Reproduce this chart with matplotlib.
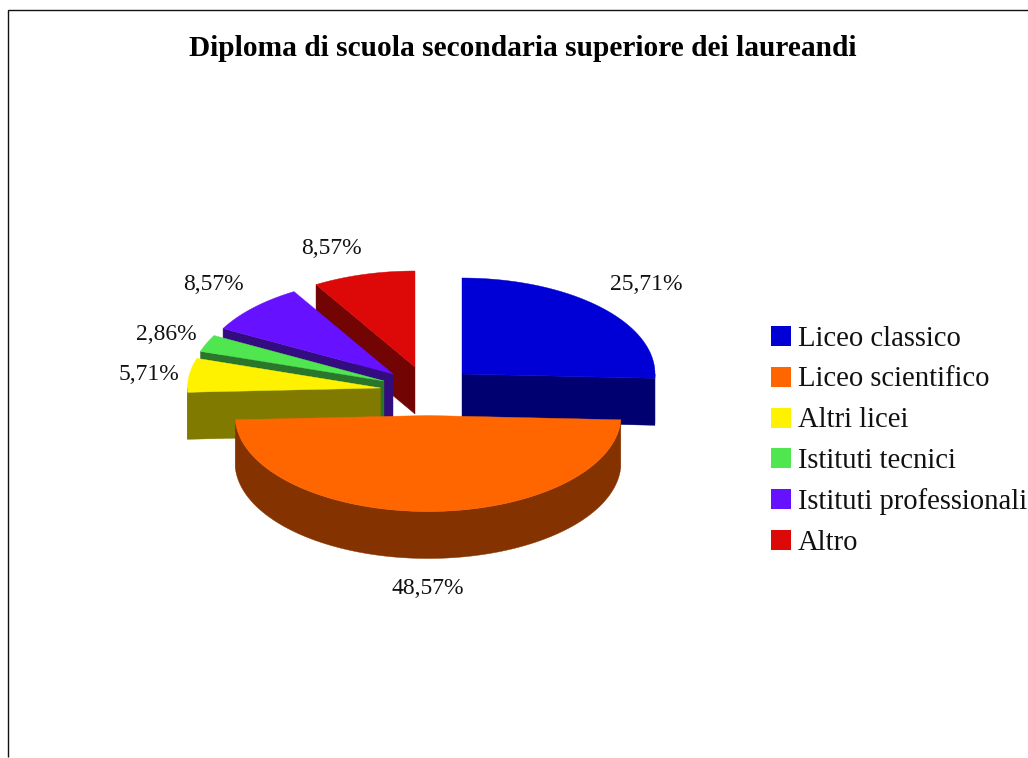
import numpy as np
import matplotlib
matplotlib.use("Agg")
import matplotlib.pyplot as plt
from matplotlib.patches import Rectangle

title = "Diploma di scuola secondaria superiore dei laureandi"
categories = ["Liceo classico", "Liceo scientifico", "Altri licei",
              "Istituti tecnici", "Istituti professionali", "Altro"]
values = [25.71, 48.57, 5.71, 2.86, 8.57, 8.57]
value_labels = ["25,71%", "48,57%", "5,71%", "2,86%", "8,57%", "8,57%"]

# styles and layout (pixel space)
top_colors = ["#0000D6", "#FF6600", "#FFF200", "#50E650", "#6611FF", "#DD0808"]
side_colors = ["#000070", "#843300", "#807A00", "#2A762A", "#330D80", "#720404"]
centers = [(462, 374), (428, 415.5), (380.5, 388), (384, 381), (393, 374), (415, 367)]
label_pos = [(646, 284), (428, 589), (148.5, 374), (166, 334), (213, 285), (331, 249)]
draw_order = [5, 4, 3, 2, 0, 1]
RX, RY, DEPTH = 193, 96, 47
W, H = 1028, 758
SERIF = "Liberation Serif"

fig = plt.figure(figsize=(W / 100, H / 100), dpi=100, facecolor="white")
ax = fig.add_axes([0, 0, 1, 1])
ax.set_xlim(0, W)
ax.set_ylim(H, 0)
ax.axis("off")

ax.plot([8, 8, W], [757, 10, 10], color="#111111", lw=1.0,
        solid_joinstyle="miter", solid_capstyle="butt")

ax.text(522.5, 48, title, ha="center", va="center", family=SERIF,
        fontweight="bold", fontsize=21.15, color="black")

cum = np.concatenate([[0], np.cumsum(values)])
angles = cum / cum[-1] * 360


def pt(c, a):
    r = np.radians(a)
    return c[0] + RX * np.sin(r), c[1] - RY * np.cos(r)


for i in draw_order:
    c, a0, a1 = centers[i], angles[i], angles[i + 1]
    for a, visible in ((a0, np.sin(np.radians(a0)) < 0), (a1, np.sin(np.radians(a1)) > 0)):
        if visible:
            x, y = pt(c, a)
            ax.fill([c[0], x, x, c[0]], [c[1], y, y + DEPTH, c[1] + DEPTH],
                    color=side_colors[i], lw=0.3)
    f0, f1 = max(a0, 90), min(a1, 270)
    if f1 > f0:
        x, y = pt(c, np.linspace(f0, f1, 160))
        ax.fill(np.r_[x, x[::-1]], np.r_[y, y[::-1] + DEPTH], color=side_colors[i], lw=0.3)
    x, y = pt(c, np.linspace(a0, a1, 160))
    ax.fill(np.r_[c[0], x], np.r_[c[1], y], color=top_colors[i], lw=0.3)

for (x, y), s in zip(label_pos, value_labels):
    ax.text(x, y, s, ha="center", va="center", family=SERIF, fontsize=17, color="#111111")

for k, (name, col) in enumerate(zip(categories, top_colors)):
    y = 326 + k * 40.8
    ax.add_patch(Rectangle((771, y), 20, 20, facecolor=col, edgecolor="none"))
    ax.text(798, y + 12.5, name, ha="left", va="center", family=SERIF,
            fontsize=20.65, color="#111111")

fig.savefig("out.png", dpi=100, facecolor="white")
